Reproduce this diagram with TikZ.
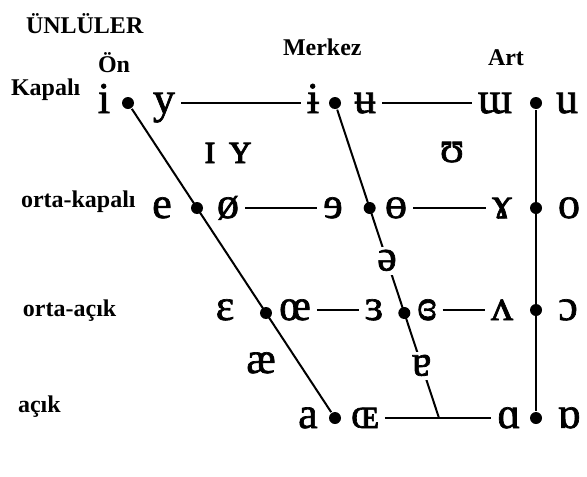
\documentclass[tikz,border=0pt]{standalone}
\usepackage{fontspec}
\setmainfont{Liberation Serif}
\newfontfamily\ipafont[FakeBold=1.5]{Liberation Serif}
\usetikzlibrary{calc}
\begin{document}
\begin{tikzpicture}[x=1pt, y=-1pt, line width=2pt,
		vow/.style={font=\ipafont\fontsize{44}{44}\selectfont, inner ysep=0pt, inner xsep=5pt, text height=20pt, text depth=0pt},
		lab/.style={font=\fontsize{24}{24}\selectfont\bfseries, anchor=base west, inner sep=0pt},
		dot/.style={circle, fill, inner sep=0pt, minimum size=12pt}]
		\useasboundingbox (0,0) rectangle (587,477);
		
		\node[lab] (title) at (25,33) {ÜNLÜLER};
		\node[lab] (front) at (97,72) {Ön};
		\node[lab] (central) at (282,55) {Merkez};
		\node[lab] (back) at (487,65) {Art};
		\node[lab] (close) at (10,95) {Kapalı};
		\node[lab] (closemid) at (20,207) {orta-kapalı};
		\node[lab] (openmid) at (22,316) {orta-açık};
		\node[lab] (open) at (17,412) {açık};
		
		\node[dot] (f1) at (128,103) {};
		\node[dot] (f4) at (335,418) {};
		\node[dot] (f2) at ($(f1)!1/3!(f4)$) {};
		\node[dot] (f3) at ($(f1)!2/3!(f4)$) {};
		\node[dot] (c1) at (335,103) {};
		\coordinate (cb) at (439,418);
		\node[dot] (c2) at ($(c1)!1/3!(cb)$) {};
		\node[dot] (c3) at ($(c1)!2/3!(cb)$) {};
		\node[dot] (b1) at (536,103) {};
		\node[dot] (b2) at (536,208) {};
		\node[dot] (b3) at (536,310) {};
		\node[dot] (b4) at (536,418) {};
		
		\node[vow] (vi) at (104,103) {i};
		\node[vow] (vy) at (164,103) {y};
		\node[vow] (vbi) at (313,103) {ɨ};
		\node[vow] (vbu) at (365,103) {ʉ};
		\node[vow] (vmu) at (495,103) {ɯ};
		\node[vow] (vu) at (567,103) {u};
		
		\node[vow] (vsi) at (210,153) {ɪ};
		\node[vow] (vsy) at (240,153) {ʏ};
		\node[vow] (vsu) at (452,152) {ʊ};
		
		\node[vow] (ve) at (162,208) {e};
		\node[vow] (vslo) at (228,208) {ø};
		\node[vow] (vre) at (333,208) {ɘ};
		\node[vow] (vbo) at (396,208) {ɵ};
		\node[vow] (vram) at (502,208) {ɤ};
		\node[vow] (vo) at (569,208) {o};
		
		\node[vow] (veps) at (225,310) {ɛ};
		\node[vow] (voe) at (295,310) {œ};
		\node[vow] (vrep) at (374,310) {ɜ};
		\node[vow] (vcrep) at (427,310) {ɞ};
		\node[vow] (vwed) at (502,310) {ʌ};
		\node[vow] (vopo) at (568,310) {ɔ};
		
		\node[vow] (vae) at (261,363) {æ};
		
		\node[vow] (va) at (308,418) {a};
		\node[vow] (vOE) at (365,418) {ɶ};
		\node[vow] (valpha) at (509,418) {ɑ};
		\node[vow] (vtalpha) at (569,418) {ɒ};
		
		\draw (vy) -- (vbi);
		\draw (vbu) -- (vmu);
		\draw (vslo) -- (vre);
		\draw (vbo) -- (vram);
		\draw (voe) -- (vrep);
		\draw (vcrep) -- (vwed);
		\draw (vOE) -- (valpha);
		
		\draw (f1) -- (f4);
		\draw (c1) -- (cb);
		\draw (b1) -- (b4);
		
		\node[vow, fill=white, inner xsep=2pt, inner ysep=4pt] (vsch) at ($(c2)!0.5!(c3)$) {ə};
		\node[vow, fill=white, inner xsep=2pt, inner ysep=4pt] (vtura) at ($(c3)!0.5!(cb)$) {ɐ};
\end{tikzpicture}
\end{document}
